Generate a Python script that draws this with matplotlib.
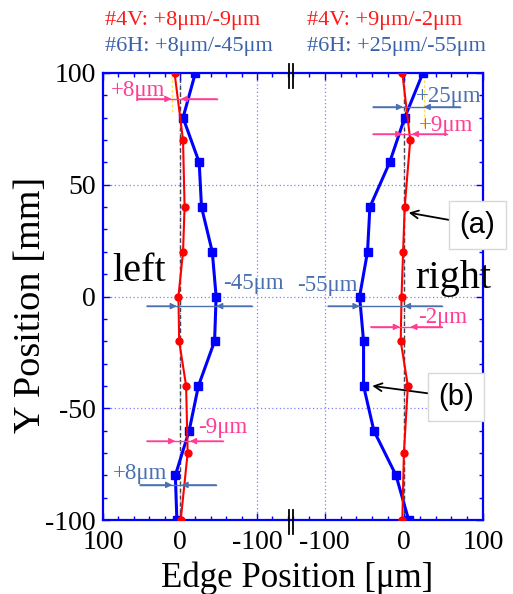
import matplotlib
matplotlib.use("Agg")
import matplotlib.pyplot as plt
from matplotlib.ticker import MultipleLocator
from matplotlib.lines import Line2D

plt.rcParams['font.family'] = ['Liberation Serif', 'DejaVu Serif']
plt.rcParams['axes.unicode_minus'] = False

# measured points (y in mm, edge position in um)
y_4v = [100, 70, 40, 20, 0, -20, -40, -70, -100]
y_6h = [100, 80, 60, 40, 20, 0, -20, -40, -60, -80, -100]
left_4v = [7, -4, -6, -4, 2, 1, -8, -10, -1]
left_6h = [-20, -4, -25, -28, -42, -47, -45, -24, -12, 6, 4]
right_4v = [-2, 8, 1, -1, -3, -4, 5, 0, -2]
right_6h = [24, 1, -18, -43, -46, -56, -51, -51, -38, -10, 6]

RED = '#ff0000'
BLUE = '#0000ff'
PINK = '#ff3d94'
SLATE = '#4a70b0'

# range markers: (label, text x, text y, line y, line start, line end, tip a, tip b, colour)
left_notes = [("+8μm", 54, 92, 88.4, 54, -48, 11, -1, PINK),
              ("-45μm", -95, 5.6, -4.3, 43, -93, 4, -47, SLATE),
              ("-9μm", -56, -58.4, -64.7, 43, -56, 6, -13, PINK),
              ("+8μm", 52, -79.4, -84.3, 52, -47, 10, -2, SLATE)]
right_notes = [("+25μm", 57, 89.3, 84.8, -39, 71, -1, 25, SLATE),
               ("+9μm", 53, 76.7, 72.7, -39, 54, -2, 10, PINK),
               ("-55μm", -97, 5.1, -4.3, -96, 48, -56, 0, SLATE),
               ("-2μm", 49, -9.6, -13.6, -42, 48, -5, 8, PINK)]

W, H = 513, 594
fig = plt.figure(figsize=(W / 100, H / 100), dpi=100)
x0, xb, x1, ytop, ybot = 103, 290, 483, 73, 520
axL = fig.add_axes([x0 / W, 1 - ybot / H, (xb - x0) / W, (ybot - ytop) / H])
axR = fig.add_axes([xb / W, 1 - ybot / H, (x1 - xb) / W, (ybot - ytop) / H], sharey=axL)

axL.set_xlim(100, -143)
axR.set_xlim(-144, 100)
axL.set_ylim(-100, 100)

for ax, d4, d6, notes in [(axL, left_4v, left_6h, left_notes),
                          (axR, right_4v, right_6h, right_notes)]:
    for g in [-100, 0]:
        ax.axvline(g, color='#8080ff', lw=0.9, ls=(0, (1, 2)), zorder=0)
    for g in [-50, 0, 50]:
        ax.axhline(g, color='#8080ff', lw=0.9, ls=(0, (1, 2)), zorder=0)
    ax.axvline(0, color='#444444', lw=1.0, ls=(0, (3, 2)), zorder=1)
    ax.plot(d6, y_6h, color=BLUE, lw=2.2, marker='s', ms=5.5, zorder=3)
    ax.plot(d4, y_4v, color=RED, lw=1.5, marker='o', ms=5, zorder=4)
    for lab, tx, ty, ly, ls_, le, ta, tb, c in notes:
        ax.text(tx, ty, lab, color=c, fontsize=16.5, ha='center', va='center', zorder=6)
        ax.plot([ls_, le], [ly, ly], color=c, lw=1, zorder=5)
        for start, tip in [(ls_, ta), (le, tb)]:
            ax.annotate('', xy=(tip, ly), xytext=(start, ly),
                        arrowprops=dict(arrowstyle='-|>', color=c, lw=1,
                                        mutation_scale=9, shrinkA=0, shrinkB=0),
                        zorder=5)
    for s in ax.spines.values():
        s.set_color(BLUE)
        s.set_linewidth(1.6)
    ax.xaxis.set_minor_locator(MultipleLocator(20))
    ax.yaxis.set_minor_locator(MultipleLocator(10))
    ax.yaxis.set_major_locator(MultipleLocator(50))
    ax.tick_params(which='both', direction='in', color=BLUE, labelsize=20,
                   top=True, bottom=True, width=1)
    ax.tick_params(which='major', length=5, pad=5)
    ax.tick_params(which='minor', length=3)
    ax.tick_params(axis='x', which='major', pad=7)

# yellow guide lines at the extreme points
axL.plot([10, 10], [99, 82], color='#ffe34d', lw=1, ls=(0, (2, 1.5)), zorder=2)
axR.plot([25, 25], [99, 76], color='#ffe34d', lw=1, ls=(0, (2, 1.5)), zorder=2)

axL.set_xticks([100, 0, -100])
axR.set_xticks([-100, 0, 100])
axL.spines['right'].set_visible(False)
axR.spines['left'].set_visible(False)
axL.tick_params(which='both', left=True, right=False)
axR.tick_params(which='both', left=False, right=True, labelleft=False)

axL.text(88, 11, "left", fontsize=29, ha='left', va='center')
axR.text(14, 8, "right", fontsize=29, ha='left', va='center')

box = dict(boxstyle='square,pad=0.35', fc='white', ec='#d8d8d8', lw=1)
axR.annotate("(a)", xy=(6, 37.5), xytext=(93, 32), fontsize=21, family='Liberation Sans',
             ha='center', va='center', bbox=box,
             arrowprops=dict(arrowstyle='->', color='black', lw=1.3, shrinkA=0, shrinkB=0,
                             mutation_scale=14), annotation_clip=False)
axR.annotate("(b)", xy=(-40, -40), xytext=(66, -45), fontsize=21, family='Liberation Sans',
             ha='center', va='center', bbox=box,
             arrowprops=dict(arrowstyle='->', color='black', lw=1.3, shrinkA=0, shrinkB=0,
                             mutation_scale=14), annotation_clip=False)

# axis break marks
for bx in [288.5, 292.5]:
    for (ya, yb) in [(64, 88), (510, 534)]:
        fig.add_artist(Line2D([bx / W, bx / W], [1 - ya / H, 1 - yb / H],
                              color='black', lw=1.3))

fig.text(105 / W, 1 - 20 / H, "#4V: +8μm/-9μm", color='#ff1a1a', fontsize=16, va='center')
fig.text(105 / W, 1 - 47 / H, "#6H: +8μm/-45μm", color='#3a62a8', fontsize=16, va='center')
fig.text(307 / W, 1 - 20 / H, "#4V: +9μm/-2μm", color='#ff1a1a', fontsize=16, va='center')
fig.text(307 / W, 1 - 47 / H, "#6H: +25μm/-55μm", color='#3a62a8', fontsize=16, va='center')

fig.text(297 / W, 1 - 578 / H, "Edge Position [μm]", fontsize=25, ha='center', va='center')
fig.text(31 / W, 1 - 305 / H, "Y Position [mm]", fontsize=27.5, rotation=90,
         ha='center', va='center')

fig.savefig("out.png", dpi=100)
